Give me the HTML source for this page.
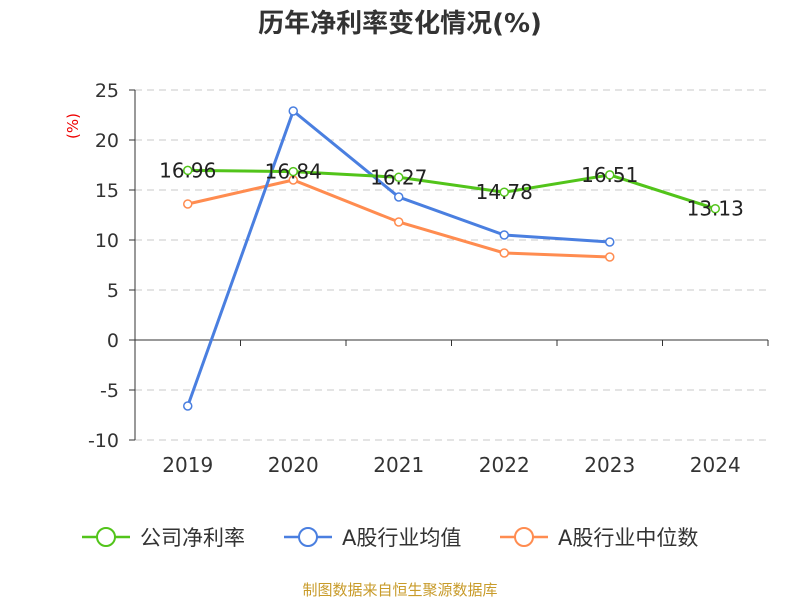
<!DOCTYPE html>
<html><head><meta charset="utf-8"><style>
body{margin:0;background:#fff;}
svg{display:block;font-family:"DejaVu Sans","Noto Sans CJK SC",sans-serif;}
</style></head><body>
<svg id="c" width="800" height="600">
<text x="400" y="32" text-anchor="middle" font-size="26" font-weight="bold" fill="#333">历年净利率变化情况(%)</text>
<text transform="translate(78,126) rotate(-90)" text-anchor="middle" font-size="15" fill="#e00">(%)</text>
<g id="grid"></g><g id="axes"></g><g id="series"></g>
<g>
<g><line x1="82" y1="537" x2="130" y2="537" stroke="#52c41a" stroke-width="2.5"/><circle cx="106" cy="537" r="9" fill="#fff" stroke="#52c41a" stroke-width="2"/><text x="140" y="545" font-size="21" fill="#333">公司净利率</text></g>
<g><line x1="284" y1="537" x2="332" y2="537" stroke="#4a7fe0" stroke-width="2.5"/><circle cx="308" cy="537" r="9" fill="#fff" stroke="#4a7fe0" stroke-width="2"/><text x="342" y="545" font-size="21" fill="#333">A股行业均值</text></g>
<g><line x1="500" y1="537" x2="548" y2="537" stroke="#ff8c50" stroke-width="2.5"/><circle cx="524" cy="537" r="9" fill="#fff" stroke="#ff8c50" stroke-width="2"/><text x="558" y="545" font-size="21" fill="#333">A股行业中位数</text></g>
</g>
<text x="400" y="595" text-anchor="middle" font-size="15" fill="#c89b2a">制图数据来自恒生聚源数据库</text>
</svg>
<script>
const categories=["2019","2020","2021","2022","2023","2024"];
const companyValues=[16.96,16.84,16.27,14.78,16.51,13.13];
const avgValues=[-6.6,22.9,14.3,10.5,9.8];
const medianValues=[13.6,16.0,11.8,8.7,8.3];
const yTicks=[25,20,15,10,5,0,-5,-10];
const NS="http://www.w3.org/2000/svg";
const L=135,R=768,T=90,B=440,yMin=-10,yMax=25;
const bw=(R-L)/categories.length;
const xs=i=>L+bw*(i+0.5);
const ys=v=>B-(v-yMin)/(yMax-yMin)*(B-T);
function mk(tag,attrs,parent){const e=document.createElementNS(NS,tag);for(const k in attrs)e.setAttribute(k,attrs[k]);parent.appendChild(e);return e;}
const grid=document.getElementById('grid'),axes=document.getElementById('axes'),ser=document.getElementById('series');
yTicks.forEach(t=>{
  const y=ys(t);
  if(t!==0){const g=mk('line',{x1:L,x2:R,y1:y,y2:y,stroke:'#c8c8c8','stroke-dasharray':'7,5'},grid);
  
  }
  const tk=mk('line',{x1:L-6,x2:L,y1:y,y2:y,stroke:'#333'},axes);
  
  
  const tx=mk('text',{x:L-16,y:y+7,'text-anchor':'end','font-size':19,fill:'#333'},axes);
  tx.textContent=t;
  
  
});
const ya=mk('line',{x1:L,x2:L,y1:T,y2:B,stroke:'#333'},axes);


const xa=mk('line',{x1:L,x2:R,y1:ys(0),y2:ys(0),stroke:'#333'},axes);


for(let i=0;i<=categories.length;i++){
  const x=L+bw*i;
  const tk=mk('line',{x1:x,x2:x,y1:ys(0),y2:ys(0)+6,stroke:'#333'},axes);
  
  
}
categories.forEach((c,i)=>{
  const tx=mk('text',{x:xs(i),y:472,'text-anchor':'middle','font-size':20,fill:'#333'},axes);
  tx.textContent=c;
  
  
});
function series(vals,color,name,labels){
  const g=mk('g',{},ser);
  
  
  const pl=mk('polyline',{points:vals.map((v,i)=>xs(i)+','+ys(v)).join(' '),fill:'none',stroke:color,'stroke-width':3},g);
  
  
  vals.forEach((v,i)=>{
    const c=mk('circle',{cx:xs(i),cy:ys(v),r:4,fill:'#fff',stroke:color,'stroke-width':1.5},g);
    
    
    if(labels){
      const t=mk('text',{x:xs(i),y:ys(v)+7,'text-anchor':'middle','font-size':20,fill:'#222'},g);
      t.textContent=v.toFixed(2);
      
      
    }
  });
}
series(medianValues,'#ff8c50','industry-median-series',false);
series(avgValues,'#4a7fe0','industry-average-series',false);
series(companyValues,'#52c41a','company-series',true);
</script>
</body></html>
